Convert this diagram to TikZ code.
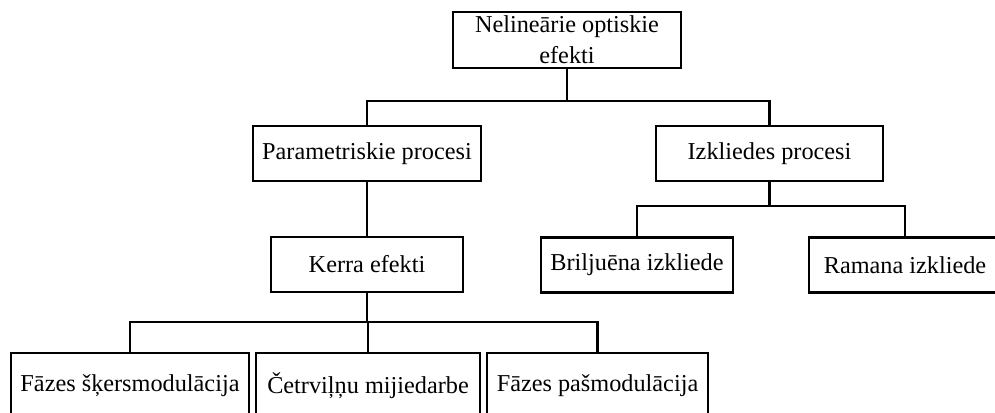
\documentclass[tikz,border=0pt]{standalone}
\usepackage{fontspec}
\setmainfont{Liberation Serif}
\begin{document}
\begin{tikzpicture}[x=0.75pt,y=-0.75pt,
  box/.style={draw, line width=1.8pt, rectangle, inner sep=0pt, outer sep=0pt,
    minimum height=#1*0.75pt, align=center,
    font=\fontsize{18.2pt}{23.2pt}\selectfont},
  box/.default=55,
  link/.style={line width=1.8pt}]
\useasboundingbox (0,0) rectangle (995,412);
\clip (0,0) rectangle (995,412);

% level 0
\node[box=56, minimum width=228*0.75pt] (root) at (567,40) {Nelineārie optiskie\\efekti};
% level 1
\node[box, minimum width=228*0.75pt] (param) at (367,153.5) {Parametriskie procesi};
\node[box, minimum width=227*0.75pt] (scat) at (769.5,153.5) {Izkliedes procesi};
% level 2
\node[box, minimum width=192*0.75pt] (kerr) at (367,264.5) {Kerra efekti};
\node[box, minimum width=192*0.75pt] (brill) at (637,265) {Briljuēna izkliede};
\node[box, minimum width=192*0.75pt] (raman) at (905,265) {Ramana izkliede};
% level 3
\node[box=65, minimum width=238*0.75pt] (xpm) at (130,385.5) {Fāzes šķersmodulācija};
\node[box=65, minimum width=224*0.75pt] (fwm) at (368,385.5) {Četrviļņu mijiedarbe};
\node[box=65, minimum width=221*0.75pt] (spm) at (597.5,385.5) {Fāzes pašmodulācija};

% connectors
\draw[link] (root.south) -- ++(0,33) -| (param.north);
\draw[link] (root.south) -- ++(0,33) -| (scat.north);
\draw[link] (param.south) -- (kerr.north);
\draw[link] (scat.south) -- ++(0,25) -| (brill.north);
\draw[link] (scat.south) -- ++(0,25) -| (raman.north);
\draw[link] (kerr.south) -- ++(0,30) -| (xpm.north);
\draw[link] (kerr.south) -- ++(0,30) -| (fwm.north);
\draw[link] (kerr.south) -- ++(0,30) -| (spm.north);
\end{tikzpicture}
\end{document}
